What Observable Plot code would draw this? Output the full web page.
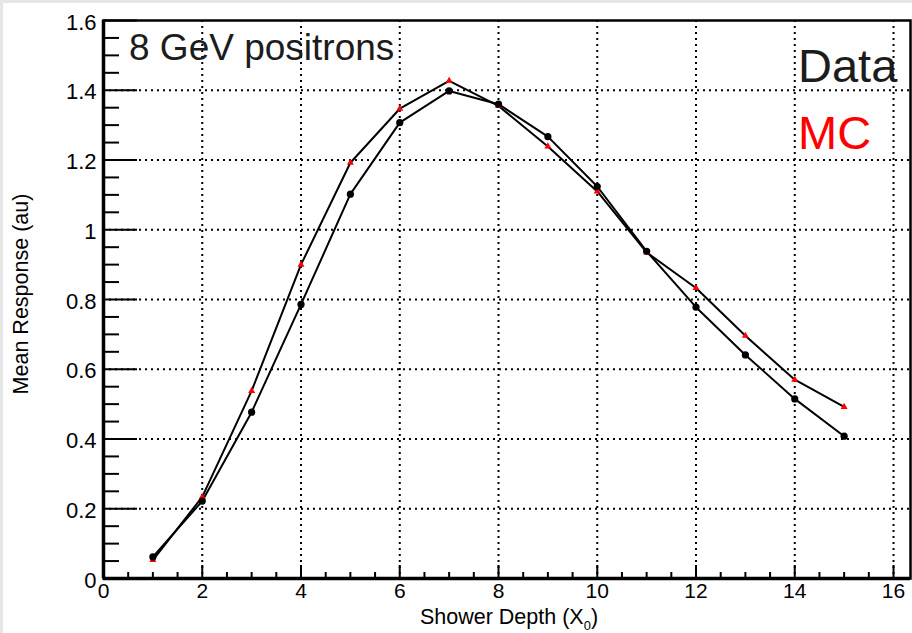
<!DOCTYPE html>
<html><head><meta charset="utf-8">
<script src="https://cdn.jsdelivr.net/npm/d3@7"></script>
<script src="https://cdn.jsdelivr.net/npm/@observablehq/plot@0.6"></script>
<style>
html,body{margin:0;padding:0;background:#e6e6e6;overflow:hidden;}
#chart{position:absolute;left:3px;top:3px;width:909px;height:630px;background:#fff;}
#chart svg{display:block;font-family:"Liberation Sans",Arial,Helvetica,sans-serif;}
</style></head><body><div id="chart"></div>
<script>
// Data
const depth    = [1, 2, 3, 4, 5, 6, 7, 8, 9, 10, 11, 12, 13, 14, 15];
const dataResp = [0.062, 0.222, 0.477, 0.786, 1.102, 1.307, 1.398, 1.360, 1.267, 1.124, 0.938, 0.778, 0.641, 0.515, 0.408];
const mcResp   = [0.053, 0.234, 0.538, 0.900, 1.192, 1.347, 1.427, 1.355, 1.239, 1.110, 0.935, 0.833, 0.696, 0.570, 0.492];
const seriesNames = ["Data", "MC"];
const titleText = "8 GeV positrons";
const xTitle = "Shower Depth (X";
const xTitleSub = "0";
const yTitle = "Mean Response (au)";
const xMajorTicks = [0, 2, 4, 6, 8, 10, 12, 14, 16];
const yMajorTicks = [0, 0.2, 0.4, 0.6, 0.8, 1, 1.2, 1.4, 1.6];
const xMinorTicks = d3.range(1, 33).filter(i => i % 4 !== 0).map(i => i * 0.5);
const yMinorTicks = d3.range(1, 32).filter(i => i % 4 !== 0).map(i => +(i * 0.05).toFixed(2));

const W = 909, H = 630, mL = 100, mR = 2, mT = 17, mB = 55;
const pw = W - mL - mR, ph = H - mT - mB;
const rows = depth.map((x, i) => ({x, data: dataResp[i], mc: mcResp[i]}));
const dotted = {stroke: "black", strokeOpacity: 1, strokeWidth: 2, strokeDasharray: "2,4"};
const fmt = d => String(d);

const chart = Plot.plot({
  width: W, height: H,
  marginLeft: mL, marginRight: mR, marginTop: mT, marginBottom: mB,
  x: {domain: [0, 16.344]},
  y: {domain: [0, 1.6]},
  style: {background: "white", overflow: "visible", fontFamily: '"Liberation Sans", Arial, sans-serif', color: "black"},
  marks: [
    Plot.gridX(xMajorTicks.filter(v => v > 0), dotted),
    Plot.gridY(yMajorTicks.filter(v => v > 0 && v < 1.6), dotted),
    Plot.ruleY(yMajorTicks, {stroke: "black", strokeWidth: 2, insetRight: pw - 34}),
    Plot.ruleY(yMinorTicks, {stroke: "black", strokeWidth: 2, insetRight: pw - 16}),
    Plot.ruleX(xMajorTicks, {stroke: "black", strokeWidth: 2, insetTop: ph - 13}),
    Plot.ruleX(xMinorTicks, {stroke: "black", strokeWidth: 2, insetTop: ph - 6}),
    Plot.axisX(xMajorTicks, {tickSize: 0, tickPadding: 5, fontSize: 21, label: null, fill: "black", tickFormat: fmt}),
    Plot.axisY(yMajorTicks, {tickSize: 0, tickPadding: 7, fontSize: 22, label: null, fill: "black", dy: 2, tickFormat: fmt}),
    Plot.frame({stroke: "black", strokeWidth: 2.5}),
    Plot.ruleX([0], {stroke: "black", strokeWidth: 3.5}),
    Plot.ruleY([0], {stroke: "black", strokeWidth: 3.5}),
    Plot.line(rows, {x: "x", y: "mc", stroke: "black", strokeWidth: 2}),
    Plot.line(rows, {x: "x", y: "data", stroke: "black", strokeWidth: 2}),
    Plot.dot(rows, {x: "x", y: "mc", symbol: "triangle", r: 2.6, fill: "#ff0000", stroke: "none"}),
    Plot.dot(rows, {x: "x", y: "data", r: 3.6, fill: "black", stroke: "none"})
  ]
});
document.getElementById("chart").appendChild(chart);

const svg = d3.select(chart);
const ff = '"Liberation Sans", Arial, sans-serif';
// y title
svg.append("text")
  .attr("transform", "translate(25,291) rotate(-90)")
  .attr("text-anchor", "middle").attr("font-size", 21.5).attr("font-family", ff)
  .attr("fill", "black").text(yTitle);
// x title with subscript
const xt = svg.append("text")
  .attr("x", 506).attr("y", 621)
  .attr("text-anchor", "middle").attr("font-size", 21.5).attr("font-family", ff).attr("fill", "black");
xt.append("tspan").text(xTitle);
xt.append("tspan").attr("dy", 6).attr("font-size", 13).text(xTitleSub);
xt.append("tspan").attr("dy", -6).text(")");
// annotation
svg.append("text").attr("x", 126).attr("y", 57).attr("text-anchor", "start").attr("font-size", 37).attr("font-family", ff)
  .attr("fill", "#1c1c1c").text(titleText);
// legend texts
svg.append("text").attr("x", 795).attr("y", 79).attr("text-anchor", "start").attr("font-size", 47).attr("font-family", ff)
  .attr("fill", "#1c1c1c").text(seriesNames[0]);
svg.append("text").attr("x", 795).attr("y", 146).attr("text-anchor", "start").attr("font-size", 47).attr("font-family", ff)
  .attr("fill", "#ff0000").text(seriesNames[1]);
</script>
</body></html>
